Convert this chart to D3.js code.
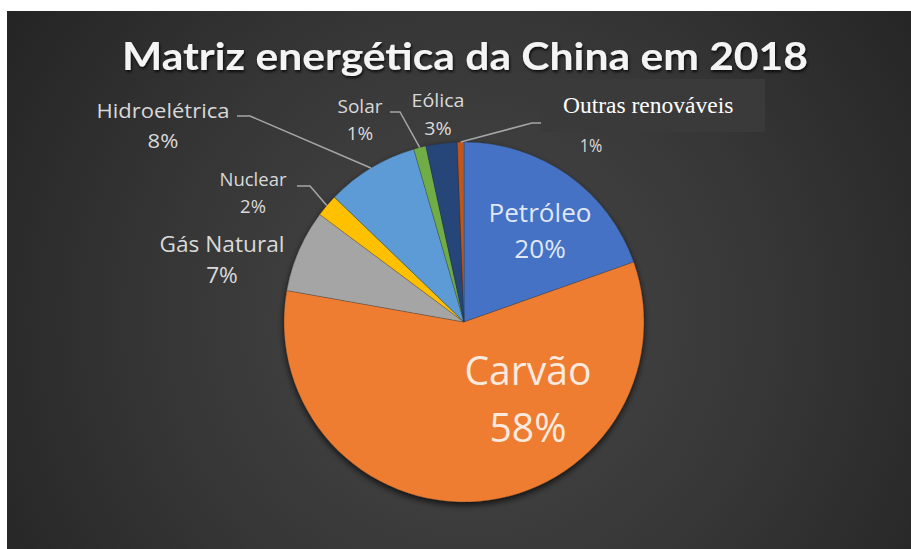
<!DOCTYPE html>
<html>
<head>
<meta charset="utf-8">
<script src="https://cdn.jsdelivr.net/npm/d3@7"></script>
<style>
  html, body { margin: 0; padding: 0; background: #fff; }
  svg { display: block; }
</style>
</head>
<body>
<div id="chart"></div>
<script>
// Matriz energética da China em 2018 - pie chart, Excel dark style

// data
const categories = ["Petróleo", "Carvão", "Gás Natural", "Nuclear", "Hidroelétrica", "Solar", "Eólica", "Outras renováveis"];
const shares     = [19.6, 58.2, 7.4, 2.0, 8.3, 1.1, 2.8, 0.6];
const pctLabels  = ["20%", "58%", "7%", "2%", "8%", "1%", "3%", "1%"];
const title      = "Matriz energética da China em 2018";

// look
const width = 911, height = 549;
const cx = 464, cy = 322, radius = 180;
const palette = ["#4472C4", "#EE7D31", "#A5A5A5", "#FFC000", "#5B9BD5", "#70AD47", "#264478", "#C0561A"];
const font = "'Open Sans', 'Noto Sans', sans-serif";
const capRatio = 0.714; // Open Sans cap height / em

// label layout: x center, baseline of first line, cap height, name width, line gap
const labelLayout = {
  "Petróleo":          { x: 540, y: 222, cap: 18,   w: 103, gap: 36 },
  "Carvão":            { x: 528, y: 385, cap: 29,   w: 127, gap: 57 },
  "Gás Natural":       { x: 222, y: 252, cap: 15.5, w: 125, gap: 31 },
  "Nuclear":           { x: 253, y: 186, cap: 13.3, w: 67,  gap: 27 },
  "Hidroelétrica":     { x: 163, y: 118, cap: 13.7, w: 133, gap: 30 },
  "Solar":             { x: 360, y: 113, cap: 12.8, w: 45,  gap: 27 },
  "Eólica":            { x: 438, y: 107, cap: 12.8, w: 53,  gap: 28 },
  "Outras renováveis": { x: 591, y: 152, cap: 12.8, w: 0,   gap: 0 }
};
// leader lines: elbow point then end point
const leaders = {
  "Hidroelétrica":     [[250, 116], [237, 116]],
  "Nuclear":           [[310, 186], [297, 186]],
  "Solar":             [[400, 112], [390, 112]],
  "Outras renováveis": [[532, 123], [545, 123]]
};

const svg = d3.select("#chart").append("svg")
  .attr("width", width)
  .attr("height", height);

const defs = svg.append("defs");
const bg = defs.append("radialGradient")
  .attr("id", "bg")
  .attr("gradientUnits", "userSpaceOnUse")
  .attr("cx", 470).attr("cy", 320).attr("r", 560);
bg.append("stop").attr("offset", "0%").attr("stop-color", "#484848");
bg.append("stop").attr("offset", "55%").attr("stop-color", "#363636");
bg.append("stop").attr("offset", "100%").attr("stop-color", "#242424");

const shadow = defs.append("filter").attr("id", "pieShadow")
  .attr("x", "-20%").attr("y", "-20%").attr("width", "140%").attr("height", "140%");
shadow.append("feDropShadow")
  .attr("dx", 0).attr("dy", 3).attr("stdDeviation", 3)
  .attr("flood-color", "#000").attr("flood-opacity", 0.7);

const tshadow = defs.append("filter").attr("id", "titleShadow")
  .attr("x", "-10%").attr("y", "-30%").attr("width", "120%").attr("height", "160%");
tshadow.append("feDropShadow")
  .attr("dx", 1).attr("dy", 2).attr("stdDeviation", 1.5)
  .attr("flood-color", "#000").attr("flood-opacity", 0.8);

// background panel (white border on top/left like the screenshot)
svg.append("rect")
  .attr("x", 7).attr("y", 11)
  .attr("width", width - 7).attr("height", height - 11)
  .attr("fill", "url(#bg)");

// title
svg.append("text")
  .attr("x", 465).attr("y", 70)
  .attr("text-anchor", "middle")
  .attr("font-family", "Lato, 'Open Sans', sans-serif")
  .attr("font-weight", 700)
  .attr("font-size", 38)
  .attr("fill", "#f4f4f4")
  .attr("textLength", 686)
  .attr("lengthAdjust", "spacingAndGlyphs")
  .attr("filter", "url(#titleShadow)")
  .text(title);

// pie
const data = categories.map((c, i) => ({ name: c, value: shares[i], pct: pctLabels[i] }));
const color = d3.scaleOrdinal().domain(categories).range(palette);
const pie = d3.pie().sort(null).value(d => d.value);
const arc = d3.arc().innerRadius(0).outerRadius(radius);
const arcs = pie(data);

const pieG = svg.append("g")
  .attr("transform", `translate(${cx},${cy})`)
  .attr("filter", "url(#pieShadow)");

pieG.selectAll("path.slice")
  .data(arcs)
  .enter().append("path")
    .attr("class", "slice")
    .attr("d", arc)
    .attr("fill", d => color(d.data.name))
    .attr("stroke", "rgba(40,40,40,0.45)")
    .attr("stroke-width", 0.6);

// leader lines from slice edge (mid angle) to label
arcs.forEach(a => {
  const pts = leaders[a.data.name];
  if (!pts) return;
  const mid = (a.startAngle + a.endAngle) / 2;
  const start = [cx + radius * Math.sin(mid), cy - radius * Math.cos(mid)];
  svg.append("path")
    .attr("d", d3.line()([start, ...pts]))
    .attr("fill", "none")
    .attr("stroke", "#a6a6a6")
    .attr("stroke-width", 1.5);
});

// "Outras renováveis" box label (serif, as in the source)
svg.append("rect")
  .attr("x", 541).attr("y", 79)
  .attr("width", 224).attr("height", 53)
  .attr("fill", "#3a3a3a");
svg.append("text")
  .attr("x", 563).attr("y", 113)
  .attr("font-family", "'Liberation Serif', 'Times New Roman', serif")
  .attr("font-size", 23.5)
  .attr("fill", "#ffffff")
  .text("Outras renováveis");

// data labels: size from cap height, condensed to the measured name width (Calibri-like)
arcs.forEach(a => {
  const d = a.data;
  const L = labelLayout[d.name];
  const inside = d.name === "Petróleo" || d.name === "Carvão";
  const size = L.cap / capRatio;
  const g = svg.append("g")
    .attr("font-family", font)
    .attr("font-size", size)
    .attr("text-anchor", "middle")
    .attr("fill", inside ? "rgba(255,255,255,0.85)" : "#d9d9d9");
  let ratio = 0.9;
  if (d.name !== "Outras renováveis") {
    const nameT = g.append("text").attr("x", L.x).attr("y", L.y).text(d.name);
    ratio = L.w / nameT.node().getComputedTextLength();
    nameT.attr("textLength", L.w).attr("lengthAdjust", "spacingAndGlyphs");
  }
  const pctT = g.append("text").attr("x", L.x).attr("y", L.y + L.gap).text(d.pct);
  pctT.attr("textLength", pctT.node().getComputedTextLength() * ratio)
    .attr("lengthAdjust", "spacingAndGlyphs");
});
</script>
</body>
</html>
